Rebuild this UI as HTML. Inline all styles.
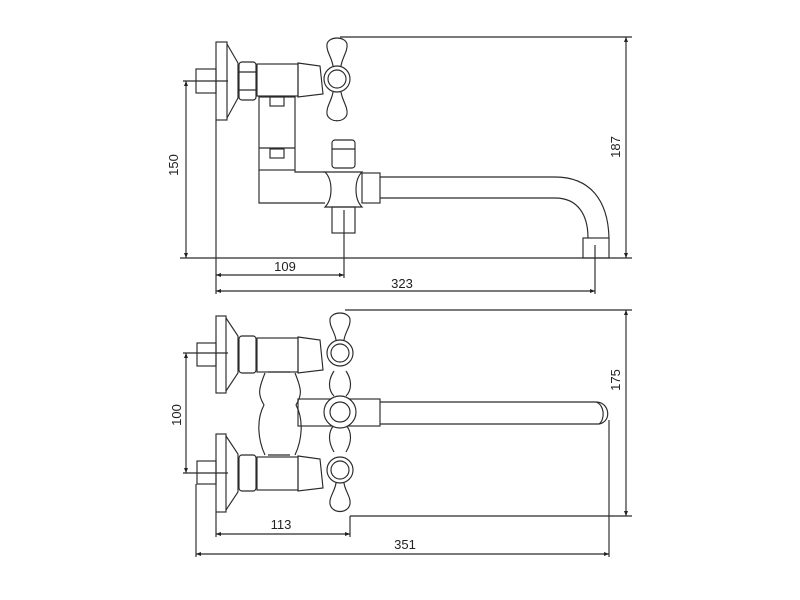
<!DOCTYPE html>
<html><head><meta charset="utf-8"><style>
html,body{margin:0;padding:0;background:#fff;width:800px;height:600px;overflow:hidden}
svg{display:block}
text{font-family:"Liberation Sans",sans-serif;font-size:13px;fill:#222}
</style></head><body>
<svg width="800" height="600" viewBox="0 0 800 600" xmlns="http://www.w3.org/2000/svg">
<defs>
<marker id="a" viewBox="0 0 10 10" refX="10" refY="5" markerWidth="7" markerHeight="5" orient="auto-start-reverse" markerUnits="userSpaceOnUse"><path d="M0,1 L10,5 L0,9 z" fill="#222"/></marker>
</defs>
<g fill="none" stroke="#2a2a2a" stroke-width="1.15">
<!-- ===== TOP VIEW ===== -->
<line x1="340" y1="37" x2="632" y2="37"/>
<line x1="626" y1="37" x2="626" y2="258" marker-start="url(#a)" marker-end="url(#a)"/>
<line x1="180" y1="258" x2="632" y2="258"/>
<line x1="183" y1="81" x2="228" y2="81"/>
<line x1="186" y1="81" x2="186" y2="258" marker-start="url(#a)" marker-end="url(#a)"/>
<line x1="216" y1="120" x2="216" y2="294"/>
<line x1="344" y1="210" x2="344" y2="278"/>
<line x1="595" y1="245" x2="595" y2="294"/>
<line x1="216" y1="275" x2="344" y2="275" marker-start="url(#a)" marker-end="url(#a)"/>
<line x1="216" y1="291" x2="595" y2="291" marker-start="url(#a)" marker-end="url(#a)"/>
<rect x="196" y="69" width="20" height="24"/>
<rect x="216" y="42" width="11" height="78"/>
<path d="M227,44 L238,63 L238,98 L227,118"/>
<rect x="239" y="62" width="17" height="38" rx="3"/>
<line x1="239" y1="72" x2="256" y2="72"/><line x1="239" y1="90" x2="256" y2="90"/>
<rect x="257" y="64" width="41" height="32"/>
<path d="M298,63 L320,66 L323,94 L298,97 z"/>
<path d="M333,66 C332,58 326,51 327,44 C329,36 345,36 347,44 C348,51 342,58 341,66"/>
<path d="M333,92 C332,100 326,107 327,114 C329,123 345,123 347,114 C348,107 342,100 341,92"/>
<circle cx="337" cy="79" r="13"/>
<circle cx="337" cy="79" r="9"/>
<rect x="259" y="97" width="36" height="73"/>
<rect x="270" y="97" width="14" height="9"/>
<rect x="270" y="149" width="14" height="9"/>
<line x1="259" y1="148" x2="295" y2="148"/>
<path d="M259,170 L259,203 L325,203 M295,170 L295,172 L325,172"/>
<path d="M325,172 L362,172 C354,180 354,199 362,207 L325,207 C333,199 333,180 325,172 z"/>
<rect x="362" y="173" width="18" height="30"/>
<rect x="332" y="140" width="23" height="28" rx="3"/>
<line x1="332" y1="149" x2="355" y2="149"/>
<rect x="332" y="207" width="23" height="26"/>
<path d="M380,177 L555,177 C590,177 608,200 609,238"/>
<path d="M380,198 L555,198 C578,198 588,215 588,238"/>
<rect x="583" y="238" width="26" height="20"/>

<!-- ===== BOTTOM VIEW ===== -->
<line x1="345" y1="310" x2="632" y2="310"/>
<line x1="350" y1="516" x2="632" y2="516"/>
<line x1="626" y1="310" x2="626" y2="516" marker-start="url(#a)" marker-end="url(#a)"/>
<line x1="183" y1="353" x2="228" y2="353"/>
<line x1="183" y1="473" x2="228" y2="473"/>
<line x1="186" y1="353" x2="186" y2="473" marker-start="url(#a)" marker-end="url(#a)"/>
<line x1="216" y1="512" x2="216" y2="537"/>
<line x1="196" y1="484" x2="196" y2="557"/>
<line x1="350" y1="516" x2="350" y2="537"/>
<line x1="609" y1="420" x2="609" y2="557"/>
<line x1="216" y1="534" x2="350" y2="534" marker-start="url(#a)" marker-end="url(#a)"/>
<line x1="196" y1="554" x2="609" y2="554" marker-start="url(#a)" marker-end="url(#a)"/>
<rect x="197" y="343" width="19" height="23"/>
<rect x="216" y="316" width="10" height="77"/>
<path d="M226,318 L238,336 L238,373 L226,391"/>
<rect x="239" y="336" width="17" height="37" rx="3"/>
<rect x="257" y="338" width="41" height="34"/>
<path d="M298,337 L320,340 L323,370 L298,373 z"/>
<rect x="197" y="461" width="19" height="23"/>
<rect x="216" y="434" width="10" height="78"/>
<path d="M226,436 L238,454 L238,492 L226,510"/>
<rect x="239" y="455" width="17" height="36" rx="3"/>
<rect x="257" y="457" width="41" height="33"/>
<path d="M298,456 L320,459 L323,488 L298,491 z"/>
<path d="M265,373 C258,390 258,395 264,405 C256,420 258,440 265,455"/>
<path d="M295,373 C302,390 302,395 296,405 C304,420 302,440 295,455"/>
<line x1="268" y1="372" x2="290" y2="372"/>
<line x1="268" y1="455" x2="290" y2="455"/>
<path d="M336,340 C335,332 329,326 330,319 C332,311 348,311 350,319 C351,326 345,332 344,340"/>
<circle cx="340" cy="353" r="13"/><circle cx="340" cy="353" r="9"/>
<path d="M334,371 C328,380 328,390 334,396"/>
<path d="M346,371 C352,380 352,390 346,396"/>
<path d="M334,452 C328,442 328,432 334,425"/>
<path d="M346,452 C352,442 352,432 346,425"/>
<circle cx="340" cy="470" r="13"/><circle cx="340" cy="470" r="9"/>
<path d="M336,483 C335,491 329,497 330,504 C332,514 348,514 350,504 C351,497 345,491 344,483"/>
<rect x="298" y="399" width="82" height="27"/>
<circle cx="340" cy="412" r="16" fill="#fff"/>
<circle cx="340" cy="412" r="10"/>
<path d="M380,402 L596,402 C610,402 612,422 599,424 L380,424"/>
<path d="M596,402 C605,405 605,420 599,424"/>
</g>
<g>
<text x="620" y="147" text-anchor="middle" transform="rotate(-90 620 147)">187</text>
<text x="178" y="165" text-anchor="middle" transform="rotate(-90 178 165)">150</text>
<text x="285" y="271" text-anchor="middle">109</text>
<text x="402" y="288" text-anchor="middle">323</text>
<text x="620" y="380" text-anchor="middle" transform="rotate(-90 620 380)">175</text>
<text x="181" y="415" text-anchor="middle" transform="rotate(-90 181 415)">100</text>
<text x="281" y="529" text-anchor="middle">113</text>
<text x="405" y="549" text-anchor="middle">351</text>
</g>
</svg>
</body></html>
